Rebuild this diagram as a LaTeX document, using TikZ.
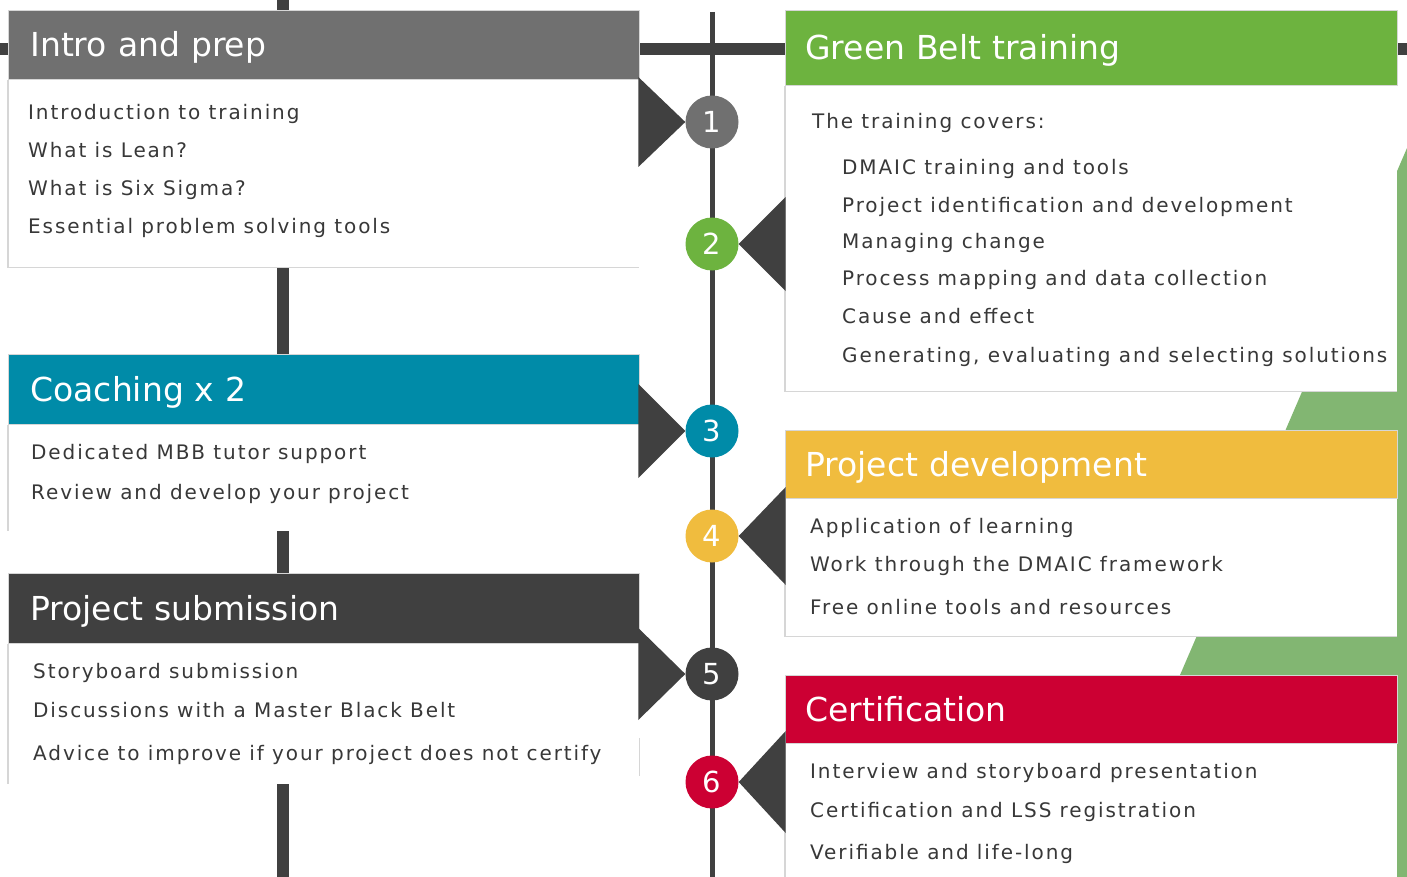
\documentclass[tikz,border=0pt]{standalone}
\usepackage{fontspec}
\setmainfont{DejaVu Sans}
\newfontfamily\itemfont{DejaVu Sans}[LetterSpace=9.5]
\usetikzlibrary{positioning}

\definecolor{introgray}{HTML}{707070}
\definecolor{coachteal}{HTML}{008BA8}
\definecolor{submitdark}{HTML}{404040}
\definecolor{beltgreen}{HTML}{6DB33F}
\definecolor{projyellow}{HTML}{F0BC3E}
\definecolor{certred}{HTML}{CC0033}
\definecolor{backgreen}{HTML}{82B672}
\definecolor{edgegray}{HTML}{D6D6D6}
\definecolor{bodytext}{HTML}{383838}

\begin{document}
\begin{tikzpicture}[x=1pt, y=-1pt,
	every node/.style = {inner sep=0pt},
	header/.style = {rectangle, anchor=north west, fill=#1,
		draw=edgegray, line width=0.8pt, text=white, align=left,
		text height=27pt, text depth=3pt,
		font=\fontsize{33}{38}\selectfont},
	lefthead/.style = {header=#1, text width=587pt, inner xsep=22pt, minimum height=69pt},
	righthead/.style = {header=#1, text width=572pt, inner xsep=20pt, minimum height=68pt},
	body/.style = {rectangle, anchor=north west, fill=white},
	items/.style = {anchor=north west, align=left, text=bodytext,
		font=\itemfont\fontsize{20}{38}\selectfont},
	stepdot/.style = {circle, fill=#1, minimum size=53pt, text=white,
		font=\fontsize{29}{29}\selectfont},
	pointer/.style = {fill=submitdark},
	edgeline/.style = {draw=edgegray, line width=1.2pt},
	bar/.style = {draw=submitdark, line width=12pt}]
	\useasboundingbox (0,0) rectangle (1407,877);
	\fill[white] (0,0) rectangle (1407,877);
	% green wedge behind the right column
	\fill[backgreen] (1407,148) -- (1093,877) -- (1407,877) -- cycle;
	\draw[bar] (283,0) -- (283,877);
	\draw[bar] (0,49) -- (1407,49);
	\draw[draw=submitdark, line width=5pt] (712,12) -- (712,877);

	% left column
	\node[lefthead=introgray] (h1) at (8,10) {Intro and prep};
	\node[body, minimum width=631pt, minimum height=187pt] (b1) at (h1.south west) {};
	\draw[edgeline] (b1.north west) |- (b1.south east);
	\node[items, below right=24pt and 20pt of b1.north west] (t1)
		{Introduction to training\\What is Lean?\\What is Six Sigma?\\Essential problem solving tools};

	\node[lefthead=coachteal, minimum height=70pt] (h3) at (8,354) {Coaching x 2};
	\node[body, minimum width=631pt, minimum height=106pt] (b3) at (h3.south west) {};
	\draw[edgeline] (b3.north west) -- (b3.south west);
	\node[items, below right=19pt and 23pt of b3.north west] (t3)
		{Dedicated MBB tutor support\\[2pt]Review and develop your project};

	\node[lefthead=submitdark, minimum height=70pt] (h5) at (8,573) {Project submission};
	\node[body, minimum width=631pt, minimum height=140pt] (b5) at (h5.south west) {};
	\draw[edgeline] (b5.north west) -- (b5.south west);
	\draw[edgeline] ([yshift=-94pt]b5.north east) -- ([yshift=-132pt]b5.north east);
	\node[items, below right=19pt and 25pt of b5.north west] (t5)
		{Storyboard submission\\[1pt]Discussions with a Master Black Belt\\[5pt]Advice to improve if your project does not certify};

	% right column
	\node[righthead=beltgreen, minimum height=75pt] (h2) at (785,10) {Green Belt training};
	\node[body, minimum width=612pt, minimum height=305pt] (b2) at (h2.south west) {};
	\draw[edgeline] (b2.north west) |- (b2.south east);
	\node[items, below right=27pt and 27pt of b2.north west] (t2)
		{The training covers:\\[8pt]
		\hspace*{30pt}DMAIC training and tools\\
		\hspace*{30pt}Project identification and development\\[-2pt]
		\hspace*{30pt}Managing change\\[-1pt]
		\hspace*{30pt}Process mapping and data collection\\
		\hspace*{30pt}Cause and effect\\[1pt]
		\hspace*{30pt}Generating, evaluating and selecting solutions};

	\node[righthead=projyellow] (h4) at (785,430) {Project development};
	\node[body, minimum width=612pt, minimum height=137pt] (b4) at (h4.south west) {};
	\draw[edgeline] (b4.north west) |- (b4.south east);
	\node[items, below right=19pt and 25pt of b4.north west] (t4)
		{Application of learning\\Work through the DMAIC framework\\[5pt]Free online tools and resources};

	\node[righthead=certred] (h6) at (785,675) {Certification};
	\node[body, minimum width=612pt, minimum height=134pt] (b6) at (h6.south west) {};
	\draw[edgeline] (b6.north west) -- (b6.south west);
	\node[items, below right=19pt and 25pt of b6.north west] (t6)
		{Interview and storyboard presentation\\[1pt]Certification and LSS registration\\[4pt]Verifiable and life-long};

	% timeline steps
	\node[stepdot=introgray] (c1) at (712,122) {1};
	\node[stepdot=beltgreen] (c2) at (712,244) {2};
	\node[stepdot=coachteal] (c3) at (712,431) {3};
	\node[stepdot=projyellow] (c4) at (712,536) {4};
	\node[stepdot=submitdark] (c5) at (712,674) {5};
	\node[stepdot=certred] (c6) at (712,782) {6};
	\fill[pointer] (c1.west) -- ++(-47,-45) -- ++(0,90) -- cycle;
	\fill[pointer] (c3.west) -- ++(-47,-47) -- ++(0,94) -- cycle;
	\fill[pointer] (c5.west) -- ++(-47,-46) -- ++(0,92) -- cycle;
	\fill[pointer] (c2.east) -- ++(47,-47) -- ++(0,94) -- cycle;
	\fill[pointer] (c4.east) -- ++(47,-49) -- ++(0,98) -- cycle;
	\fill[pointer] (c6.east) -- ++(47,-51) -- ++(0,102) -- cycle;
\end{tikzpicture}
\end{document}
